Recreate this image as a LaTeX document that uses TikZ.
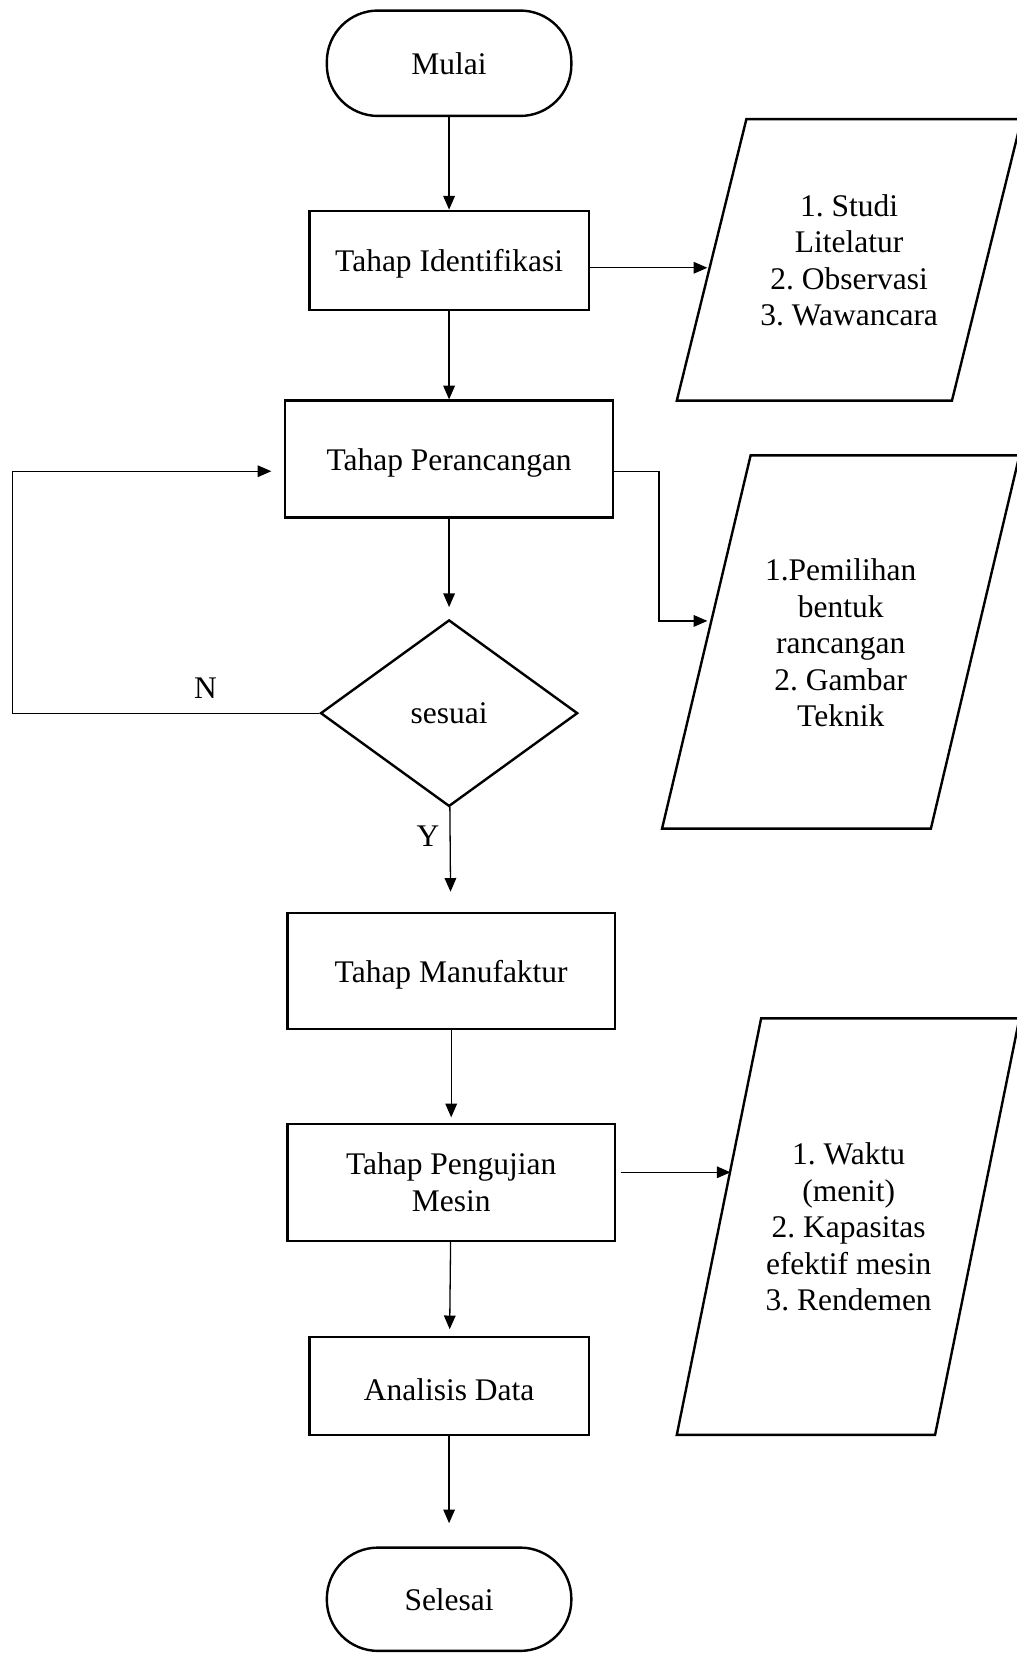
\documentclass[tikz,border=0pt]{standalone}
\usepackage{fontspec}
\setmainfont{Liberation Serif}
\usetikzlibrary{arrows.meta,shapes.geometric}
\begin{document}
\begin{tikzpicture}[x=0.02cm,y=-0.02cm,
    font=\fontsize{17}{19.7}\selectfont\frenchspacing,
    term/.style={draw,line width=1.3pt,rounded corners=0.97cm,minimum width=4.64cm,minimum height=2cm},
    proc/.style={draw,line width=1.3pt,align=center},
    tahap/.style={proc,text height=16pt},
    data/.style={align=center},
    miring/.style={line width=1.3pt,line join=miter},
    keputusan/.style={draw,line width=1.3pt,diamond,minimum width=4.88cm,minimum height=3.54cm,inner sep=0pt},
    arr/.style={-{Triangle[length=0.26cm,width=0.22cm]},line width=0.7pt}]
            \useasboundingbox (0,0) rectangle (964,1568);

            \node[term] (mulai) at (426,60) {Mulai};
            \node[tahap,minimum width=5.3cm,minimum height=1.88cm] (id) at (426,247) {Tahap Identifikasi};
            \node[tahap,minimum width=6.22cm,minimum height=2.22cm] (ran) at (426,435.5) {Tahap Perancangan};
            \node[keputusan] (cek) at (426,676.5) {sesuai};
            \node[tahap,minimum width=6.22cm,minimum height=2.2cm] (man) at (428,921) {Tahap Manufaktur};
            \node[proc,minimum width=6.22cm,minimum height=2.22cm] (uji) at (428,1121.5) {Tahap Pengujian\\Mesin};
            \node[tahap,minimum width=5.3cm,minimum height=1.86cm] (ana) at (426,1314.5) {Analisis Data};
            \node[term,minimum height=1.96cm] (sel) at (426,1517) {Selesai};

            \draw[miring] (642,380) -- (708,113) -- (969,113) -- (903,380) -- cycle;
            \draw[miring] (628,786) -- (712,432) -- (967,432) -- (883,786) -- cycle;
            \draw[miring] (642,1361) -- (722,966) -- (967,966) -- (887,1361) -- cycle;
            \node[data] (p1) at (805.5,247) {1. Studi\\Litelatur\\2. Observasi\\3. Wawancara};
            \node[data] (p2) at (797.5,610) {1.Pemilihan\\bentuk\\rancangan\\2. Gambar\\Teknik};
            \node[data] (p3) at (805,1164) {1. Waktu\\(menit)\\2. Kapasitas\\efektif mesin\\3. Rendemen};

            \node (n) at (195,653) {N};
            \node (y) at (406,793) {Y};
            \coordinate (m1) at (671,254);
            \coordinate (belok) at (625,589);
            \coordinate (m2) at (671,589);
            \coordinate (m3) at (693,1112);
            \coordinate (kiri) at (12,0);

            \draw[arr] (mulai) to (id);
            \draw[arr] (id.east |- m1) to (m1);
            \draw[arr] (id) to (ran);
            \draw[arr] ([yshift=-0.23cm]ran.east) -| (belok) to (m2);
            \draw[arr,shorten >=0.22cm] (ran) to (cek);
            \draw[arr,shorten >=0.24cm] (cek.west) -- (cek.west -| kiri) |- ([yshift=-0.23cm]ran.west);
            \draw[arr,shorten >=0.38cm] (cek) to (man);
            \draw[arr,shorten >=0.1cm] (man) to (uji);
            \draw[arr] ([xshift=0.08cm]uji.east |- m3) to (m3);
            \draw[arr,shorten >=0.12cm] (uji) to (ana);
            \draw[arr,shorten >=0.44cm] (ana) to (sel);
        \end{tikzpicture}
\end{document}
